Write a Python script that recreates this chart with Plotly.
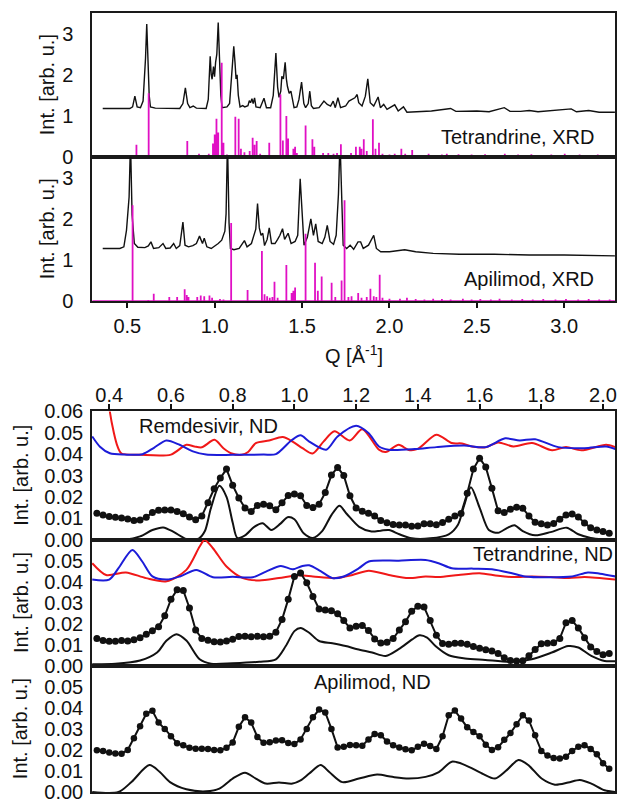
import plotly.graph_objects as go

# ---------------- XRD data (Q in 1/Angstrom, intensity in arb. u.) ----------------
tet_xrd_q = [0.359, 0.514, 0.530, 0.543, 0.556, 0.575, 0.590, 0.597, 0.604, 0.611, 0.618, 0.625, 0.632, 0.66, 0.80,
             0.818, 0.832, 0.845, 0.858, 0.877, 0.895, 0.951, 0.963, 0.974, 0.980, 0.985, 0.993, 0.999, 1.005, 1.012,
             1.020, 1.028, 1.035, 1.042, 1.07, 1.085, 1.098, 1.109, 1.116, 1.122, 1.128, 1.135, 1.145, 1.16, 1.172,
             1.19, 1.198, 1.205, 1.213, 1.22, 1.228, 1.236, 1.26, 1.282, 1.296, 1.32, 1.335, 1.35, 1.36, 1.368,
             1.378, 1.384, 1.393, 1.403, 1.41, 1.416, 1.426, 1.436, 1.445, 1.454, 1.47, 1.482, 1.497, 1.51, 1.52,
             1.535, 1.544, 1.553, 1.565, 1.597, 1.625, 1.644, 1.663, 1.678, 1.69, 1.705, 1.72, 1.749, 1.768, 1.787,
             1.802, 1.815, 1.824, 1.843, 1.862, 1.876, 1.89, 1.91, 1.935, 1.948, 1.967, 1.986, 2.03, 2.05, 2.08,
             2.10, 2.24, 2.35, 2.38, 2.50, 2.57, 2.657, 2.69, 2.75, 2.80, 2.85, 3.04, 3.07, 3.14, 3.20, 3.29]
tet_xrd_i = [1.18, 1.18, 1.22, 1.48, 1.22, 1.20, 1.36, 1.80, 2.40, 3.23, 2.30, 1.50, 1.22, 1.19, 1.18,
             1.30, 1.68, 1.30, 1.20, 1.24, 1.19, 1.18, 1.40, 2.45, 2.00, 1.89, 2.20, 1.95, 2.30, 2.50,
             3.27, 2.20, 1.50, 1.20, 1.22, 1.30, 2.00, 2.69, 2.30, 1.90, 2.00, 1.50, 1.22, 1.25, 1.22,
             1.25, 1.37, 1.32, 1.42, 1.30, 1.44, 1.22, 1.20, 1.43, 1.20, 1.20, 1.50, 2.53, 1.70, 1.45,
             1.60, 1.96, 1.90, 2.30, 1.90, 1.72, 1.55, 1.60, 1.40, 1.20, 1.22, 1.40, 1.82, 1.30, 1.20,
             1.30, 1.60, 1.25, 1.18, 1.20, 1.36, 1.28, 1.24, 1.36, 1.20, 1.44, 1.20, 1.24, 1.36, 1.40,
             1.44, 1.52, 1.32, 1.24, 1.48, 1.90, 1.32, 1.24, 1.46, 1.20, 1.28, 1.16, 1.27, 1.12, 1.22,
             1.09, 1.12, 1.18, 1.11, 1.12, 1.10, 1.20, 1.11, 1.11, 1.13, 1.10, 1.17, 1.10, 1.13, 1.09, 1.09]

tet_stick_q = [0.326, 0.552, 0.622, 0.70, 0.843, 0.91, 0.966, 0.99, 1.00, 1.01, 1.02, 1.04, 1.05, 1.07, 1.118,
               1.137, 1.15, 1.17, 1.20, 1.217, 1.228, 1.24, 1.26, 1.312, 1.376, 1.39, 1.41, 1.42, 1.45, 1.46,
               1.47, 1.52, 1.559, 1.57, 1.62, 1.65, 1.68, 1.70, 1.722, 1.78, 1.808, 1.83, 1.84, 1.853, 1.87,
               1.905, 1.92, 1.94, 1.96, 2.00, 2.03, 2.068, 2.09, 2.13, 2.17, 2.224, 2.26, 2.30, 2.328, 2.36,
               2.395, 2.43, 2.47, 2.51, 2.547, 2.60, 2.63, 2.66, 2.70, 2.736, 2.77, 2.812, 2.85, 2.89, 2.926,
               2.96, 3.003, 3.04, 3.088, 3.13, 3.16, 3.192, 3.22, 3.249, 3.275]
tet_stick_h = [0.05, 0.30, 1.55, 0.04, 0.39, 0.08, 0.08, 0.33, 0.55, 0.93, 0.60, 2.29, 0.35, 0.06, 0.98,
               0.93, 0.20, 0.12, 0.15, 0.47, 0.30, 0.39, 0.08, 0.35, 1.52, 0.40, 1.00, 0.45, 0.20, 0.25,
               0.10, 0.77, 0.43, 0.25, 0.10, 0.10, 0.08, 0.10, 0.31, 0.10, 0.25, 0.25, 0.20, 0.43, 0.15,
               0.92, 0.20, 0.35, 0.08, 0.06, 0.08, 0.20, 0.08, 0.17, 0.05, 0.08, 0.04, 0.06, 0.08, 0.04,
               0.07, 0.05, 0.06, 0.04, 0.07, 0.04, 0.05, 0.08, 0.04, 0.06, 0.04, 0.07, 0.04, 0.05, 0.06,
               0.04, 0.08, 0.05, 0.06, 0.04, 0.05, 0.06, 0.04, 0.05, 0.04]

api_xrd_q = [0.359, 0.457, 0.48, 0.495, 0.51, 0.518, 0.527, 0.54, 0.56, 0.60, 0.62, 0.635, 0.65, 0.68, 0.704,
             0.72, 0.745, 0.765, 0.78, 0.80, 0.818, 0.83, 0.85, 0.875, 0.895, 0.913, 0.93, 0.94, 0.955, 0.98,
             1.02, 1.04, 1.058, 1.065, 1.073, 1.082, 1.09, 1.11, 1.14, 1.17, 1.185, 1.21, 1.235, 1.245, 1.255,
             1.265, 1.275, 1.285, 1.30, 1.312, 1.325, 1.345, 1.36, 1.373, 1.388, 1.40, 1.42, 1.437, 1.46, 1.475,
             1.489, 1.50, 1.511, 1.53, 1.55, 1.565, 1.578, 1.592, 1.615, 1.63, 1.644, 1.66, 1.68, 1.695, 1.708,
             1.717, 1.728, 1.735, 1.755, 1.775, 1.795, 1.82, 1.835, 1.85, 1.88, 1.91, 1.925, 1.95, 2.00, 2.087,
             2.15, 2.25, 2.40, 2.60, 2.80, 3.00, 3.29]
api_xrd_i = [1.28, 1.28, 1.32, 1.72, 2.53, 3.90, 2.10, 1.40, 1.31, 1.30, 1.34, 1.44, 1.28, 1.30, 1.40,
             1.28, 1.29, 1.40, 1.28, 1.35, 1.92, 1.36, 1.32, 1.35, 1.40, 1.58, 1.40, 1.53, 1.32, 1.28,
             1.40, 1.48, 1.70, 2.12, 3.90, 1.90, 1.28, 1.25, 1.28, 1.47, 1.32, 1.40, 1.75, 2.37, 1.78,
             1.60, 1.65, 1.35, 1.50, 1.78, 1.40, 1.40, 1.50, 1.60, 1.76, 1.50, 1.65, 1.40, 1.45, 1.60,
             2.97, 2.20, 1.36, 1.55, 2.00, 1.60, 1.88, 1.45, 1.40, 1.55, 1.84, 1.45, 1.38, 1.60, 2.60,
             3.90, 2.20, 1.36, 1.28, 1.36, 1.26, 1.44, 1.44, 1.28, 1.36, 1.60, 1.28, 1.20, 1.20, 1.25,
             1.20, 1.16, 1.14, 1.14, 1.12, 1.12, 1.10]

api_stick_q = [0.53, 0.62, 0.651, 0.74, 0.785, 0.828, 0.84, 0.85, 0.90, 0.92, 0.94, 0.97, 0.985, 1.03, 1.05,
               1.094, 1.188, 1.27, 1.285, 1.30, 1.315, 1.33, 1.342, 1.36, 1.41, 1.44, 1.45, 1.46, 1.52, 1.574,
               1.59, 1.612, 1.669, 1.69, 1.726, 1.743, 1.765, 1.783, 1.821, 1.84, 1.87, 1.891, 1.91, 1.925, 1.944,
               1.96, 2.0, 2.06, 2.10, 2.15, 2.2, 2.25, 2.30, 2.35, 2.42, 2.47, 2.52, 2.58, 2.63, 2.70,
               2.76, 2.82, 2.88, 2.95, 3.01, 3.08, 3.14, 3.20, 3.26]
api_stick_h = [2.33, 0.03, 0.18, 0.10, 0.10, 0.29, 0.15, 0.10, 0.10, 0.14, 0.12, 0.14, 0.08, 0.05, 0.04,
               1.90, 0.27, 1.22, 0.17, 0.12, 0.08, 0.10, 0.47, 0.08, 0.88, 0.20, 0.25, 0.33, 1.64, 0.93,
               0.25, 0.60, 0.45, 0.10, 0.50, 2.45, 0.10, 0.12, 0.20, 0.08, 0.10, 0.30, 0.12, 0.10, 0.64,
               0.08, 0.06, 0.06, 0.08, 0.05, 0.04, 0.06, 0.05, 0.04, 0.06, 0.04, 0.05, 0.04, 0.06, 0.04,
               0.05, 0.04, 0.05, 0.04, 0.05, 0.04, 0.05, 0.04, 0.04]

# ---------------- ND data ----------------
q_nd = [0.36, 0.38, 0.40, 0.42, 0.44, 0.46, 0.48, 0.50, 0.52, 0.54,
        0.56, 0.58, 0.60, 0.62, 0.64, 0.66, 0.68, 0.70, 0.72, 0.74,
        0.76, 0.78, 0.80, 0.82, 0.84, 0.86, 0.88, 0.90, 0.92, 0.94,
        0.96, 0.98, 1.00, 1.02, 1.04, 1.06, 1.08, 1.10, 1.12, 1.14,
        1.16, 1.18, 1.20, 1.22, 1.24, 1.26, 1.28, 1.30, 1.32, 1.34,
        1.36, 1.38, 1.40, 1.42, 1.44, 1.46, 1.48, 1.50, 1.52, 1.54,
        1.56, 1.58, 1.60, 1.62, 1.64, 1.66, 1.68, 1.70, 1.72, 1.74,
        1.76, 1.78, 1.80, 1.82, 1.84, 1.86, 1.88, 1.90, 1.92, 1.94,
        1.96, 1.98, 2.00, 2.02]

rem_meas = [0.0123, 0.0115, 0.0108, 0.0105, 0.0101, 0.0096, 0.0090, 0.0092, 0.0105, 0.0127,
            0.0138, 0.0139, 0.0139, 0.0132, 0.0121, 0.0106, 0.0093, 0.0110, 0.0172, 0.0238,
            0.0288, 0.0330, 0.0255, 0.0195, 0.0148, 0.0132, 0.0160, 0.0166, 0.0158, 0.0140,
            0.0172, 0.0207, 0.0213, 0.0205, 0.0160, 0.0150, 0.0166, 0.0220, 0.0302, 0.0338,
            0.0300, 0.0205, 0.0148, 0.0133, 0.0124, 0.0110, 0.0090, 0.0079, 0.0071, 0.0069,
            0.0069, 0.0062, 0.0064, 0.0074, 0.0074, 0.0070, 0.0080, 0.0095, 0.0110, 0.0122,
            0.0217, 0.0330, 0.0381, 0.0340, 0.0240, 0.0135, 0.0127, 0.0142, 0.0152, 0.0147,
            0.0110, 0.0081, 0.0074, 0.0069, 0.0076, 0.0095, 0.0115, 0.0120, 0.0106, 0.0078,
            0.0056, 0.0045, 0.0038, 0.0030]
tet_meas = [0.0130, 0.0120, 0.0117, 0.0117, 0.0120, 0.0118, 0.0124, 0.0134, 0.0150, 0.0167,
            0.0186, 0.0238, 0.0316, 0.0362, 0.0358, 0.0275, 0.0170, 0.0130, 0.0122, 0.0114,
            0.0113, 0.0118, 0.0126, 0.0139, 0.0140, 0.0138, 0.0140, 0.0138, 0.0140, 0.0160,
            0.0220, 0.0316, 0.0425, 0.0441, 0.0395, 0.0330, 0.0270, 0.0265, 0.0262, 0.0248,
            0.0215, 0.0180, 0.0188, 0.0192, 0.0168, 0.0128, 0.0108, 0.0112, 0.0130, 0.0170,
            0.0210, 0.0260, 0.0283, 0.0280, 0.0215, 0.0145, 0.0106, 0.0103, 0.0107, 0.0107,
            0.0103, 0.0092, 0.0083, 0.0076, 0.0071, 0.0058, 0.0038, 0.0025, 0.0023, 0.0024,
            0.0048, 0.0078, 0.0105, 0.0107, 0.0110, 0.0130, 0.0205, 0.0215, 0.0180, 0.0134,
            0.0090, 0.0068, 0.0052, 0.0058]
api_meas = [0.0199, 0.0195, 0.0188, 0.0183, 0.0182, 0.0200, 0.0255, 0.0313, 0.0372, 0.0386,
            0.0330, 0.0300, 0.0265, 0.0232, 0.0222, 0.0210, 0.0206, 0.0206, 0.0205, 0.0200,
            0.0198, 0.0210, 0.0235, 0.0310, 0.0355, 0.0330, 0.0262, 0.0234, 0.0236, 0.0245,
            0.0246, 0.0233, 0.0228, 0.0250, 0.0300, 0.0355, 0.0392, 0.0378, 0.0300, 0.0212,
            0.0215, 0.0224, 0.0222, 0.0220, 0.0250, 0.0276, 0.0270, 0.0240, 0.0222, 0.0211,
            0.0203, 0.0198, 0.0215, 0.0230, 0.0219, 0.0205, 0.0265, 0.0365, 0.0387, 0.0350,
            0.0308, 0.0285, 0.0265, 0.0225, 0.0200, 0.0213, 0.0248, 0.0280, 0.0322, 0.0365,
            0.0340, 0.0270, 0.0195, 0.0173, 0.0162, 0.0159, 0.0168, 0.0195, 0.0215, 0.0222,
            0.0205, 0.0180, 0.0137, 0.0110]

rem_calc_q = [0.345, 0.45, 0.50, 0.54, 0.575, 0.61, 0.65, 0.69, 0.71, 0.73, 0.757, 0.78, 0.80, 0.815, 0.84,
              0.87, 0.897, 0.925, 0.955, 0.978, 1.00, 1.03, 1.06, 1.09, 1.12, 1.146, 1.17, 1.21, 1.25, 1.28,
              1.307, 1.34, 1.38, 1.44, 1.50, 1.53, 1.55, 1.572, 1.60, 1.63, 1.66, 1.69, 1.713, 1.74, 1.78,
              1.83, 1.882, 1.92, 1.96, 2.00, 2.04]
rem_calc_i = [0.0, 0.0, 0.0015, 0.0045, 0.0057, 0.0035, 0.0003, 0.0005, 0.0040, 0.0150, 0.0252, 0.0200, 0.0080, 0.0008, 0.0020,
              0.0060, 0.0077, 0.0045, 0.0075, 0.0105, 0.0095, 0.0030, 0.0008, 0.0040, 0.0115, 0.0158, 0.0120, 0.0060, 0.0038, 0.0042,
              0.0045, 0.0025, 0.0006, 0.0006, 0.0025, 0.0070, 0.0160, 0.0245, 0.0150, 0.0045, 0.0032, 0.0055, 0.0067, 0.0040, 0.0020,
              0.0035, 0.0056, 0.0025, 0.0008, 0.0002, 0.0]
tet_calc_q = [0.345, 0.42, 0.50, 0.555, 0.586, 0.618, 0.65, 0.693, 0.73, 0.80, 0.886, 0.94, 0.972, 1.00, 1.02,
              1.048, 1.08, 1.123, 1.166, 1.204, 1.252, 1.296, 1.338, 1.382, 1.405, 1.43, 1.457, 1.50, 1.553, 1.618,
              1.705, 1.769, 1.834, 1.887, 1.92, 1.962, 2.005, 2.04]
tet_calc_i = [0.0008, 0.0010, 0.0025, 0.0063, 0.0120, 0.0150, 0.0120, 0.0031, 0.0010, 0.0012, 0.0019, 0.0031, 0.0094, 0.0165, 0.0180,
              0.0157, 0.0118, 0.0107, 0.0094, 0.0079, 0.0063, 0.0047, 0.0079, 0.0126, 0.0145, 0.0134, 0.0094, 0.0050, 0.0035, 0.0028,
              0.0019, 0.0031, 0.0063, 0.0094, 0.0087, 0.0047, 0.0023, 0.0022]
api_calc_q = [0.345, 0.43, 0.473, 0.53, 0.564, 0.597, 0.65, 0.714, 0.757, 0.80, 0.84, 0.875, 0.907, 0.95, 0.994,
              1.02, 1.048, 1.085, 1.113, 1.155, 1.209, 1.268, 1.317, 1.37, 1.425, 1.468, 1.51, 1.553, 1.608, 1.65,
              1.688, 1.726, 1.758, 1.801, 1.844, 1.887, 1.925, 1.962, 2.005, 2.04]
api_calc_i = [0.0, 0.0, 0.0049, 0.0128, 0.0095, 0.0047, 0.0013, 0.0003, 0.0016, 0.0064, 0.0092, 0.0064, 0.0040, 0.0045, 0.0040,
              0.0055, 0.0088, 0.0128, 0.0095, 0.0047, 0.0064, 0.0083, 0.0072, 0.0064, 0.0072, 0.0095, 0.0144, 0.0128, 0.0088, 0.0064,
              0.0104, 0.0152, 0.0128, 0.0064, 0.0035, 0.0045, 0.0057, 0.0040, 0.0008, 0.0]

rem_red_q = [0.385, 0.40, 0.415, 0.427, 0.44, 0.50, 0.60, 0.65, 0.676, 0.70, 0.741, 0.77, 0.797, 0.829, 0.85,
             0.875, 0.918, 0.962, 0.994, 1.026, 1.059, 1.095, 1.13, 1.179, 1.22, 1.274, 1.296, 1.338, 1.37, 1.40,
             1.46, 1.51, 1.543, 1.575, 1.62, 1.66, 1.71, 1.77, 1.835, 1.88, 1.93, 2.01, 2.04]
rem_red_i = [0.0900, 0.0620, 0.0500, 0.0436, 0.0403, 0.0397, 0.0398, 0.0444, 0.0436, 0.0432, 0.0467, 0.0428, 0.0403, 0.0397, 0.0410,
             0.0452, 0.0464, 0.0480, 0.0459, 0.0428, 0.0403, 0.0460, 0.0507, 0.0464, 0.0517, 0.0421, 0.0410, 0.0444, 0.0420, 0.0425,
             0.0491, 0.0452, 0.0450, 0.0436, 0.0432, 0.0455, 0.0436, 0.0452, 0.0418, 0.0433, 0.0418, 0.0444, 0.0433]
rem_blue_q = [0.345, 0.37, 0.402, 0.45, 0.508, 0.545, 0.585, 0.628, 0.671, 0.714, 0.80, 0.90, 0.94, 0.99, 1.02,
              1.048, 1.103, 1.14, 1.20, 1.24, 1.274, 1.305, 1.39, 1.46, 1.55, 1.62, 1.683, 1.73, 1.78, 1.855,
              1.94, 2.01, 2.04]
rem_blue_i = [0.0483, 0.0435, 0.0404, 0.0398, 0.0400, 0.0430, 0.0464, 0.0444, 0.0413, 0.0398, 0.0397, 0.0398, 0.0400, 0.0464, 0.0488,
              0.0459, 0.0421, 0.0483, 0.0533, 0.0499, 0.0436, 0.0421, 0.0424, 0.0433, 0.0440, 0.0433, 0.0474, 0.0464, 0.0470, 0.0433,
              0.0428, 0.0436, 0.0424]
tet_red_q = [0.345, 0.39, 0.454, 0.519, 0.586, 0.65, 0.693, 0.709, 0.736, 0.78, 0.833, 0.886, 0.95, 1.016, 1.06,
             1.133, 1.188, 1.241, 1.306, 1.37, 1.425, 1.467, 1.532, 1.60, 1.66, 1.71, 1.77, 1.83, 1.89, 1.94, 2.04]
tet_red_i = [0.0488, 0.0432, 0.0444, 0.0417, 0.0402, 0.0456, 0.0567, 0.0598, 0.0559, 0.0472, 0.0417, 0.0406, 0.0417, 0.0430, 0.0425,
             0.0417, 0.0432, 0.0452, 0.0432, 0.0417, 0.0425, 0.0422, 0.0432, 0.0440, 0.0428, 0.0422, 0.0425, 0.0422, 0.0417, 0.0422, 0.0410]
tet_blue_q = [0.345, 0.40, 0.43, 0.475, 0.507, 0.54, 0.586, 0.629, 0.682, 0.736, 0.80, 0.865, 0.908, 0.956, 0.994,
              1.026, 1.048, 1.085, 1.123, 1.16, 1.209, 1.241, 1.338, 1.425, 1.467, 1.51, 1.58, 1.64, 1.705, 1.747,
              1.82, 1.90, 1.951, 1.99, 2.04]
tet_blue_i = [0.0410, 0.0410, 0.0464, 0.0551, 0.0496, 0.0425, 0.0410, 0.0425, 0.0456, 0.0421, 0.0423, 0.0421, 0.0448, 0.0475, 0.0459,
              0.0475, 0.0478, 0.0450, 0.0417, 0.0425, 0.0464, 0.0496, 0.0500, 0.0503, 0.0488, 0.0464, 0.0462, 0.0459, 0.0440, 0.0425,
              0.0421, 0.0425, 0.0444, 0.0438, 0.0425]

xrd_ticks = [0.5, 1.0, 1.5, 2.0, 2.5, 3.0]
nd_ticks = [0.4, 0.6, 0.8, 1.0, 1.2, 1.4, 1.6, 1.8, 2.0]

for a, b in [(tet_xrd_q, tet_xrd_i), (api_xrd_q, api_xrd_i), (tet_stick_q, tet_stick_h), (api_stick_q, api_stick_h),
             (q_nd, rem_meas), (q_nd, tet_meas), (q_nd, api_meas), (rem_calc_q, rem_calc_i), (tet_calc_q, tet_calc_i),
             (api_calc_q, api_calc_i), (rem_red_q, rem_red_i), (rem_blue_q, rem_blue_i), (tet_red_q, tet_red_i),
             (tet_blue_q, tet_blue_i)]:
    assert len(a) == len(b), (len(a), len(b))

# ---------------- layout geometry ----------------
W_FIG, H_FIG = 617, 803
L, R, T, B = 92, 0, 13, 6
PW, PH = W_FIG - L - R, H_FIG - T - B


def px_x(p):
    return (p - L) / PW


def px_y(p):
    return (H_FIG - B - p) / PH


def dom(top, bot):
    return [px_y(bot), px_y(top)]


XRD_RANGE = [0.2977, 3.2906]
ND_RANGE = [0.3442, 2.0388]
MAG = "#E010C4"
RED = "#F01818"
BLUE = "#1C1CD8"
BLK = "#111111"
FONT = "Arial, Liberation Sans, sans-serif"


def stick_line(qs, hs, q0, q1):
    xs, ys = [q0], [0.0]
    for q, h in sorted(zip(qs, hs)):
        xs += [q, q, q]
        ys += [0.0, h, 0.0]
    xs.append(q1)
    ys.append(0.0)
    return xs, ys


fig = go.Figure()

# XRD panels
for k, (qx, iy, sq, sh) in enumerate([(tet_xrd_q, tet_xrd_i, tet_stick_q, tet_stick_h),
                                       (api_xrd_q, api_xrd_i, api_stick_q, api_stick_h)], start=1):
    ax = "" if k == 1 else str(k)
    fig.add_trace(go.Scatter(x=qx, y=iy, mode="lines", line=dict(color=BLK, width=1.4),
                             xaxis="x" + ax, yaxis="y" + ax))
    sx, sy = stick_line(sq, sh, 0.30, 3.29)
    fig.add_trace(go.Scatter(x=sx, y=sy, mode="lines", line=dict(color=MAG, width=1.8),
                             xaxis="x" + ax, yaxis="y" + ax))

# ND panels
nd_sets = [
    (3, rem_red_q, rem_red_i, rem_blue_q, rem_blue_i, rem_meas, rem_calc_q, rem_calc_i, 7),
    (4, tet_red_q, tet_red_i, tet_blue_q, tet_blue_i, tet_meas, tet_calc_q, tet_calc_i, 7),
    (5, None, None, None, None, api_meas, api_calc_q, api_calc_i, 6.5),
]
for k, rq, ri, bq, bi, meas, cq, ci, msz in nd_sets:
    ax = str(k)
    if rq is not None:
        fig.add_trace(go.Scatter(x=rq, y=ri, mode="lines", line=dict(color=RED, width=2, shape="spline", smoothing=0.8),
                                 xaxis="x" + ax, yaxis="y" + ax))
        fig.add_trace(go.Scatter(x=bq, y=bi, mode="lines", line=dict(color=BLUE, width=2, shape="spline", smoothing=0.8),
                                 xaxis="x" + ax, yaxis="y" + ax))
    fig.add_trace(go.Scatter(x=cq, y=ci, mode="lines", line=dict(color=BLK, width=2, shape="spline", smoothing=0.8),
                             xaxis="x" + ax, yaxis="y" + ax))
    fig.add_trace(go.Scatter(x=q_nd, y=meas, mode="lines+markers", line=dict(color=BLK, width=2),
                             marker=dict(color=BLK, size=msz, symbol="circle"),
                             xaxis="x" + ax, yaxis="y" + ax))

AX = dict(showline=True, mirror=True, linecolor="#1a1a1a", linewidth=1.5, showgrid=False, zeroline=False,
          tickfont=dict(family=FONT, size=20, color=BLK))

panels = {1: (13, 158), 2: (158, 303), 3: (414, 543), 4: (543, 670), 5: (670, 797)}
lay = {}
for k, (top, bot) in panels.items():
    nm = "" if k == 1 else str(k)
    xa = dict(AX, domain=[0, 1], anchor="y" + nm)
    ya = dict(AX, domain=dom(top, bot), anchor="x" + nm)
    if k <= 2:
        xa.update(range=XRD_RANGE)
        ya.update(range=[0, 3.5], tickvals=[0, 1, 2, 3], ticktext=["0", "1", "2", "3"], ticks="",
                  ticklabelstandoff=13)
        if k == 2:
            xa.update(tickvals=xrd_ticks, ticktext=["%.1f" % v for v in xrd_ticks], ticks="outside",
                      ticklen=5, tickwidth=1.5, tickcolor=BLK, ticklabelstandoff=1)
        else:
            xa.update(showticklabels=False, ticks="")
    else:
        xa.update(range=ND_RANGE)
        yv = [0.0, 0.01, 0.02, 0.03, 0.04, 0.05, 0.06] if k == 3 else [0.0, 0.01, 0.02, 0.03, 0.04, 0.05]
        ya.update(range=[0, 0.06], tickvals=yv, ticktext=["%.2f" % v for v in yv], ticks="",
                  ticklabelstandoff=3)
        if k == 3:
            xa.update(side="top", tickvals=nd_ticks, ticktext=["%.1f" % v for v in nd_ticks], ticks="outside",
                      ticklen=6, tickwidth=1.5, tickcolor=BLK, ticklabelstandoff=-6)
        else:
            xa.update(showticklabels=False, ticks="")
    lay["xaxis" + nm] = xa
    lay["yaxis" + nm] = ya

ann = []
tfont = dict(family=FONT, size=20, color=BLK)
for k, (top, bot) in panels.items():
    xc = 47 if k <= 2 else 20
    ann.append(dict(text="Int. [arb. u.]", textangle=-90, xref="paper", yref="paper", x=px_x(xc),
                    y=px_y((top + bot) / 2), xanchor="center", yanchor="middle", showarrow=False, font=tfont))
ann.append(dict(text="Q [Å<sup>-1</sup>]", xref="paper", yref="paper", x=px_x(354.5), y=px_y(357),
                xanchor="center", yanchor="middle", showarrow=False, font=tfont))
for txt, lx, ly in [("Tetrandrine, XRD", 440, 138), ("Apilimod, XRD", 463, 281), ("Remdesivir, ND", 137, 429),
                    ("Tetrandrine, ND", 472, 557), ("Apilimod, ND", 313, 686)]:
    ann.append(dict(text=txt, xref="paper", yref="paper", x=px_x(lx), y=px_y(ly), xanchor="left",
                    yanchor="middle", showarrow=False, font=tfont))

fig.update_layout(width=W_FIG, height=H_FIG, margin=dict(l=L, r=R, t=T, b=B),
                  paper_bgcolor="white", plot_bgcolor="white", showlegend=False,
                  font=dict(family=FONT, size=20, color=BLK), annotations=ann, **lay)

fig.write_html("out.html")
